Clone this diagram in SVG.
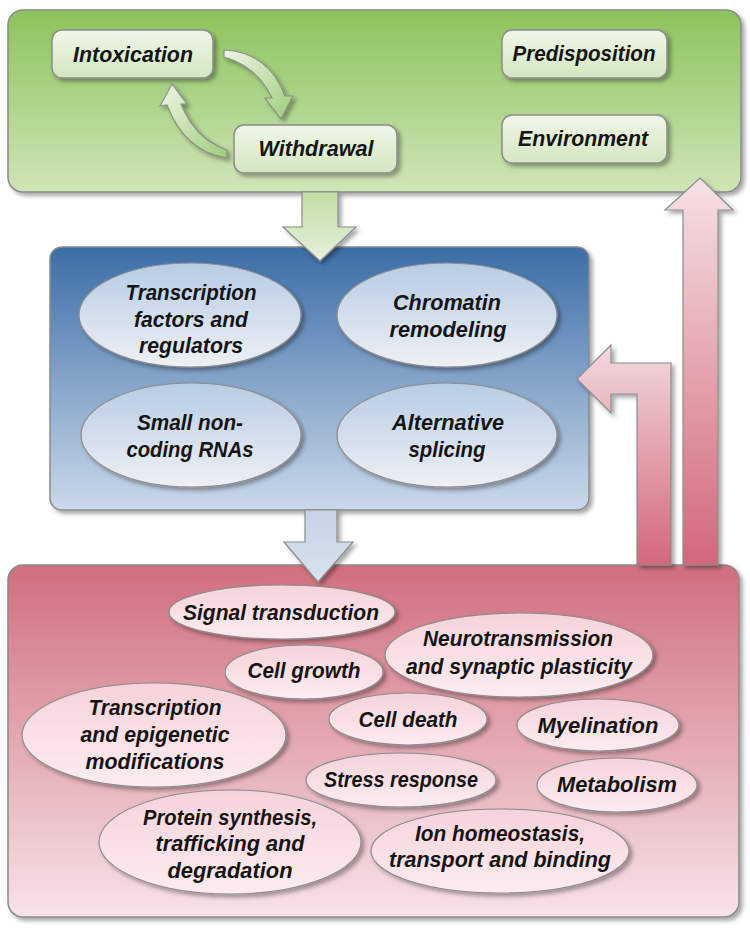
<svg xmlns="http://www.w3.org/2000/svg" width="750" height="933" viewBox="0 0 750 933">
<defs>
<linearGradient id="gPanel" x1="0" y1="0" x2="0" y2="1"><stop offset="0" stop-color="#8cc35b"/><stop offset="1" stop-color="#cfe5b8"/></linearGradient>
<linearGradient id="bPanel" x1="0" y1="0" x2="0" y2="1"><stop offset="0" stop-color="#3b6da6"/><stop offset="1" stop-color="#cbd9ea"/></linearGradient>
<linearGradient id="pPanel" x1="0" y1="0" x2="0" y2="1"><stop offset="0" stop-color="#d06e7e"/><stop offset="1" stop-color="#f7e3e7"/></linearGradient>
<linearGradient id="gBox" x1="0" y1="0" x2="0" y2="1"><stop offset="0" stop-color="#f0f6e8"/><stop offset="1" stop-color="#d3e6c1"/></linearGradient>
<linearGradient id="bEll" x1="0" y1="0" x2="0" y2="1"><stop offset="0" stop-color="#b7cce4"/><stop offset="1" stop-color="#eef0f4"/></linearGradient>
<linearGradient id="pEll" x1="0" y1="0" x2="0" y2="1"><stop offset="0" stop-color="#f6d3da"/><stop offset="1" stop-color="#fcecef"/></linearGradient>
<linearGradient id="gArrow" x1="0" y1="0" x2="0" y2="1"><stop offset="0" stop-color="#c2dea7"/><stop offset="1" stop-color="#e5f0da"/></linearGradient>
<linearGradient id="gCurve" x1="0" y1="0" x2="1" y2="1"><stop offset="0" stop-color="#eef5e5"/><stop offset="1" stop-color="#9fcd78"/></linearGradient>
<linearGradient id="bArrow" x1="0" y1="0" x2="0" y2="1"><stop offset="0" stop-color="#c5d3e5"/><stop offset="1" stop-color="#d9e2ee"/></linearGradient>
<linearGradient id="pArrow" gradientUnits="userSpaceOnUse" x1="0" y1="178" x2="0" y2="565"><stop offset="0" stop-color="#f6e1e4"/><stop offset="1" stop-color="#d2677a"/></linearGradient>
<linearGradient id="pArrow2" gradientUnits="userSpaceOnUse" x1="0" y1="345" x2="0" y2="565"><stop offset="0" stop-color="#f3d9de"/><stop offset="1" stop-color="#d2677a"/></linearGradient>
<filter id="sh" x="-10%" y="-10%" width="130%" height="130%"><feDropShadow dx="3" dy="3" stdDeviation="2" flood-color="#000" flood-opacity="0.35"/></filter>
</defs>
<style>
.panel{stroke:#8a8a8a;stroke-width:1.5;filter:url(#sh)}
.box{fill:url(#gBox);stroke:#8c8c8c;stroke-width:1.5;filter:url(#sh)}
.bell{fill:url(#bEll);stroke:#8c8c8c;stroke-width:1.2;filter:url(#sh)}
.pell{fill:url(#pEll);stroke:#8c8c8c;stroke-width:1.2;filter:url(#sh)}
.arr{stroke:#8c8c8c;stroke-width:1.2;filter:url(#sh)}
text{font-family:"Liberation Sans",Arial,sans-serif;font-style:italic;font-weight:bold;font-size:22px;fill:#151515;text-anchor:middle}
.t{font-size:22px}
</style>

<g id="panel-green"><rect class="panel" x="8" y="10" width="733" height="182" rx="15" fill="url(#gPanel)"/></g>
<g id="panel-blue"><rect class="panel" x="50" y="247" width="539" height="263" rx="12" fill="url(#bPanel)"/></g>
<g id="panel-pink"><rect class="panel" x="8" y="565" width="731" height="352" rx="15" fill="url(#pPanel)"/></g>

<g id="connectors">
<path class="arr" fill="url(#gArrow)" d="M302,192 L338,192 L338,227 L356,227 L320,261 L283,227 L302,227 Z"/>
<path class="arr" fill="url(#bArrow)" d="M305,510 L337,510 L337,542 L353,542 L318,582 L284,542 L305,542 Z"/>
<path class="arr" fill="url(#pArrow)" d="M683,565 L683,210 L665,210 L700,178 L733,210 L718,210 L718,565 Z"/>
<path class="arr" fill="url(#pArrow2)" d="M577,379 L611,345 L611,363 L671,363 L671,565 L637,565 L637,394 L611,394 L611,413 Z"/>
<path class="arr" fill="url(#gCurve)" d="M224,50 C252,51 274,66 285,96 L293,96 L281,119 L265,98 L272,98 C262,77 246,63 224,57 Z"/>
<path class="arr" fill="url(#gCurve)" d="M227,158 C199,154 179,136 167,105 L160,106 L172,84 L187,104 L181,104 C191,128 205,142 227,150 Z"/>
</g>

<g id="node-intoxication"><rect class="box" x="52" y="30" width="161" height="48" rx="10"/><text x="133" y="62" textLength="120" lengthAdjust="spacingAndGlyphs">Intoxication</text></g>
<g id="node-withdrawal"><rect class="box" x="234" y="125" width="163" height="48" rx="10"/><text x="316" y="156" textLength="115" lengthAdjust="spacingAndGlyphs">Withdrawal</text></g>
<g id="node-predisposition"><rect class="box" x="502" y="30" width="165" height="48" rx="10"/><text x="584" y="61" textLength="143" lengthAdjust="spacingAndGlyphs">Predisposition</text></g>
<g id="node-environment"><rect class="box" x="502" y="115" width="165" height="48" rx="10"/><text x="583" y="146" textLength="130" lengthAdjust="spacingAndGlyphs">Environment</text></g>

<g id="node-tf"><ellipse class="bell" cx="190" cy="315" rx="111" ry="52"/>
<text class="t" x="191" y="300" textLength="131" lengthAdjust="spacingAndGlyphs">Transcription</text>
<text class="t" x="191" y="327" textLength="114" lengthAdjust="spacingAndGlyphs">factors and</text>
<text class="t" x="191" y="353" textLength="104" lengthAdjust="spacingAndGlyphs">regulators</text></g>
<g id="node-chromatin"><ellipse class="bell" cx="447" cy="315" rx="110" ry="52"/>
<text class="t" x="447" y="310" textLength="108" lengthAdjust="spacingAndGlyphs">Chromatin</text>
<text class="t" x="448" y="337" textLength="117" lengthAdjust="spacingAndGlyphs">remodeling</text></g>
<g id="node-ncrna"><ellipse class="bell" cx="191" cy="435" rx="110" ry="52"/>
<text class="t" x="190" y="430" textLength="106" lengthAdjust="spacingAndGlyphs">Small non-</text>
<text class="t" x="190" y="457" textLength="127" lengthAdjust="spacingAndGlyphs">coding RNAs</text></g>
<g id="node-splicing"><ellipse class="bell" cx="447" cy="435" rx="110" ry="52"/>
<text class="t" x="448" y="430" textLength="112" lengthAdjust="spacingAndGlyphs">Alternative</text>
<text class="t" x="447" y="457" textLength="77" lengthAdjust="spacingAndGlyphs">splicing</text></g>

<g id="node-signal"><ellipse class="pell" cx="282" cy="612" rx="113" ry="27"/><text class="t" x="281" y="620" textLength="196" lengthAdjust="spacingAndGlyphs">Signal transduction</text></g>
<g id="node-growth"><ellipse class="pell" cx="304" cy="672" rx="79" ry="27"/><text class="t" x="304" y="678" textLength="113" lengthAdjust="spacingAndGlyphs">Cell growth</text></g>
<g id="node-neuro"><ellipse class="pell" cx="519" cy="655" rx="134" ry="42"/>
<text class="t" x="518" y="646" textLength="190" lengthAdjust="spacingAndGlyphs">Neurotransmission</text>
<text class="t" x="519" y="674" textLength="226" lengthAdjust="spacingAndGlyphs">and synaptic plasticity</text></g>
<g id="node-epigen"><ellipse class="pell" cx="154" cy="735" rx="132" ry="52"/>
<text class="t" x="155" y="715" textLength="133" lengthAdjust="spacingAndGlyphs">Transcription</text>
<text class="t" x="155" y="742" textLength="149" lengthAdjust="spacingAndGlyphs">and epigenetic</text>
<text class="t" x="155" y="769" textLength="139" lengthAdjust="spacingAndGlyphs">modifications</text></g>
<g id="node-death"><ellipse class="pell" cx="408" cy="719" rx="79" ry="26"/><text class="t" x="408" y="727" textLength="99" lengthAdjust="spacingAndGlyphs">Cell death</text></g>
<g id="node-myelin"><ellipse class="pell" cx="598" cy="725" rx="81" ry="26"/><text class="t" x="598" y="733" textLength="121" lengthAdjust="spacingAndGlyphs">Myelination</text></g>
<g id="node-stress"><ellipse class="pell" cx="401" cy="780" rx="95" ry="27"/><text class="t" x="401" y="787" textLength="154" lengthAdjust="spacingAndGlyphs">Stress response</text></g>
<g id="node-metab"><ellipse class="pell" cx="617" cy="785" rx="80" ry="27"/><text class="t" x="617" y="792" textLength="120" lengthAdjust="spacingAndGlyphs">Metabolism</text></g>
<g id="node-protein"><ellipse class="pell" cx="230" cy="842" rx="131" ry="52"/>
<text class="t" x="230" y="825" textLength="174" lengthAdjust="spacingAndGlyphs">Protein synthesis,</text>
<text class="t" x="230" y="851" textLength="149" lengthAdjust="spacingAndGlyphs">trafficking and</text>
<text class="t" x="230" y="878" textLength="125" lengthAdjust="spacingAndGlyphs">degradation</text></g>
<g id="node-ion"><ellipse class="pell" cx="500" cy="851" rx="129" ry="42"/>
<text class="t" x="500" y="841" textLength="170" lengthAdjust="spacingAndGlyphs">Ion homeostasis,</text>
<text class="t" x="500" y="867" textLength="222" lengthAdjust="spacingAndGlyphs">transport and binding</text></g>
</svg>
